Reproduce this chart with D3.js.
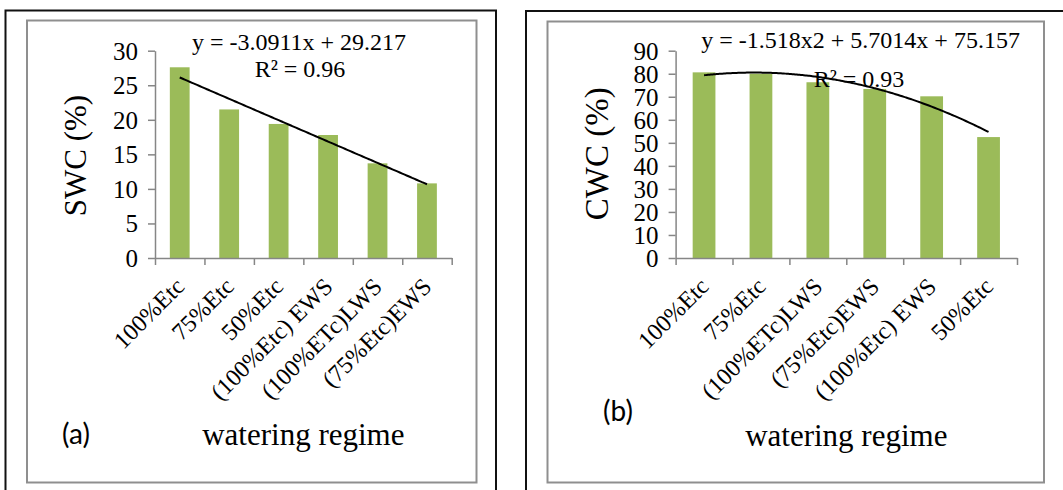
<!DOCTYPE html>
<html>
<head>
<meta charset="utf-8">
<script src="https://cdn.jsdelivr.net/npm/d3@7"></script>
<style>
  html, body { margin: 0; padding: 0; background: #fff; }
  svg { display: block; }
  .serif { font-family: "Liberation Serif", "Times New Roman", serif; fill: #000; }
  .sans { font-family: Lato, "Liberation Sans", sans-serif; fill: #000; }
</style>
</head>
<body>
<svg id="chart" width="1063" height="490"></svg>
<script>
// ---- Panel (a): soil water content ----
const swcCategories = ["100%Etc", "75%Etc", "50%Etc", "(100%Etc) EWS", "(100%ETc)LWS", "(75%Etc)EWS"];
const swcValues = [27.6, 21.5, 19.4, 17.8, 13.7, 10.8];
const swcTicks = [0, 5, 10, 15, 20, 25, 30];
const swcTrend = [29.217, -3.0911];            // linear: a + b·x
const swcEquation = ["y = -3.0911x + 29.217", "R² = 0.96"];

// ---- Panel (b): canopy water content ----
const cwcCategories = ["100%Etc", "75%Etc", "(100%ETc)LWS", "(75%Etc)EWS", "(100%Etc) EWS", "50%Etc"];
const cwcValues = [80.6, 80.0, 76.3, 73.4, 70.2, 52.5];
const cwcTicks = [0, 10, 20, 30, 40, 50, 60, 70, 80, 90];
const cwcTrend = [75.157, 5.7014, -1.518];     // quadratic: a + b·x + c·x²
const cwcEquation = ["y = -1.518x2 + 5.7014x + 75.157", "R² = 0.93"];

const xTitle = "watering regime";

const svg = d3.select("#chart");
const BAR = "#9BBB59";
const AXIS = "#868686";

function polyAt(coefs, x) {
  return coefs.reduce((s, c, i) => s + c * Math.pow(x, i), 0);
}

function panel(opt) {
  const g = svg.append("g");

  // outer frame (runs past the bottom of the page)
  g.append("rect")
    .attr("x", opt.frame[0]).attr("y", opt.frame[1])
    .attr("width", opt.frame[2]).attr("height", opt.frame[3])
    .attr("fill", "none").attr("stroke", "#111").attr("stroke-width", 2);

  // chart area border
  g.append("rect")
    .attr("x", opt.area[0]).attr("y", opt.area[1])
    .attr("width", opt.area[2]).attr("height", opt.area[3])
    .attr("fill", "none").attr("stroke", "#8f8f8f").attr("stroke-width", 2);

  const [x0, x1] = opt.xRange;
  const [yTop, yBot] = opt.yRange;

  const x = d3.scaleBand().domain(opt.categories).range([x0, x1])
    .paddingInner(0.6).paddingOuter(0.3);
  const xPos = d3.scaleLinear().domain([0, opt.categories.length]).range([x0, x1]);
  const y = d3.scaleLinear().domain([0, d3.max(opt.ticks)]).range([yBot, yTop]);

  // bars
  g.append("g").selectAll("rect").data(opt.values).join("rect")
    .attr("x", (d, i) => x(opt.categories[i]))
    .attr("y", d => y(d))
    .attr("width", x.bandwidth())
    .attr("height", d => yBot - y(d))
    .attr("fill", BAR);

  // y axis
  const yAxis = g.append("g").attr("transform", `translate(${x0},0)`)
    .call(d3.axisLeft(y).tickValues(opt.ticks).tickSize(7).tickPadding(10).tickSizeOuter(0));
  yAxis.select(".domain").attr("stroke", AXIS).attr("stroke-width", 1.5);
  yAxis.selectAll(".tick line").attr("stroke", AXIS).attr("stroke-width", 1.5);
  yAxis.selectAll(".tick text")
    .attr("class", "serif").attr("font-size", opt.tickFont).attr("dy", "0.34em");

  // x axis (category boundaries)
  const xAxis = g.append("g").attr("transform", `translate(0,${yBot})`)
    .call(d3.axisBottom(xPos).tickValues(d3.range(opt.categories.length + 1))
      .tickSize(7).tickFormat("").tickSizeOuter(0));
  xAxis.select(".domain").attr("stroke", AXIS).attr("stroke-width", 1.5);
  xAxis.selectAll(".tick line").attr("stroke", AXIS).attr("stroke-width", 1.5);

  // rotated category labels
  g.append("g").selectAll("text").data(opt.categories).join("text")
    .attr("class", "serif")
    .attr("font-size", 24)
    .attr("text-anchor", "end")
    .attr("transform", d => `translate(${x(d) + x.bandwidth() / 2 + 6},${yBot + 30}) rotate(-45)`)
    .text(d => d);

  // trend line from the fitted equation
  const n = opt.categories.length;
  const centre = i => x(opt.categories[0]) + x.bandwidth() / 2 + (i - 1) * x.step();
  const pts = d3.range(1, n + 0.001, 0.05).map(t => [centre(t), y(polyAt(opt.trend, t))]);
  g.append("path")
    .attr("d", d3.line().curve(d3.curveMonotoneX)(pts))
    .attr("fill", "none").attr("stroke", "#000").attr("stroke-width", 2);

  // equation labels
  g.append("text").attr("class", "serif").attr("font-size", 24)
    .attr("text-anchor", "middle").attr("x", opt.eq1[0]).attr("y", opt.eq1[1])
    .text(opt.equation[0]);
  g.append("text").attr("class", "serif").attr("font-size", 24)
    .attr("text-anchor", "middle").attr("x", opt.eq2[0]).attr("y", opt.eq2[1])
    .text(opt.equation[1]);

  // y title
  g.append("text").attr("class", "serif").attr("font-size", opt.yTitleFont)
    .attr("text-anchor", "middle")
    .attr("transform", `translate(${opt.yTitlePos[0]},${opt.yTitlePos[1]}) rotate(-90)`)
    .text(opt.yTitle);

  // x title
  g.append("text").attr("class", "serif").attr("font-size", 31)
    .attr("text-anchor", "middle")
    .attr("x", (x0 + x1) / 2).attr("y", opt.xTitleY)
    .text(xTitle);

  // panel letter
  g.append("text").attr("class", "sans").attr("font-size", 28)
    .attr("text-anchor", "middle").attr("x", opt.letterPos[0]).attr("y", opt.letterPos[1])
    .text(opt.letter);
}

panel({
  frame: [5.5, 10.5, 490.5, 500],
  area: [27, 20.5, 449.5, 462],
  xRange: [155, 451.7],
  yRange: [50.7, 258],
  categories: swcCategories,
  values: swcValues,
  ticks: swcTicks,
  tickFont: 25,
  trend: swcTrend,
  equation: swcEquation,
  eq1: [299, 50],
  eq2: [300, 77],
  yTitle: "SWC (%)",
  yTitleFont: 31,
  yTitlePos: [86, 155.5],
  xTitleY: 444.5,
  letter: "(a)",
  letterPos: [76, 444]
});

panel({
  frame: [526, 11, 560, 500],
  area: [547.5, 21.5, 496.5, 461],
  xRange: [675.6, 1017],
  yRange: [50.7, 258],
  categories: cwcCategories,
  values: cwcValues,
  ticks: cwcTicks,
  tickFont: 25,
  trend: cwcTrend,
  equation: cwcEquation,
  eq1: [860.6, 47.6],
  eq2: [859, 86.7],
  yTitle: "CWC (%)",
  yTitleFont: 33,
  yTitlePos: [607.5, 153.8],
  xTitleY: 445.5,
  letter: "(b)",
  letterPos: [618, 421]
});
</script>
</body>
</html>
